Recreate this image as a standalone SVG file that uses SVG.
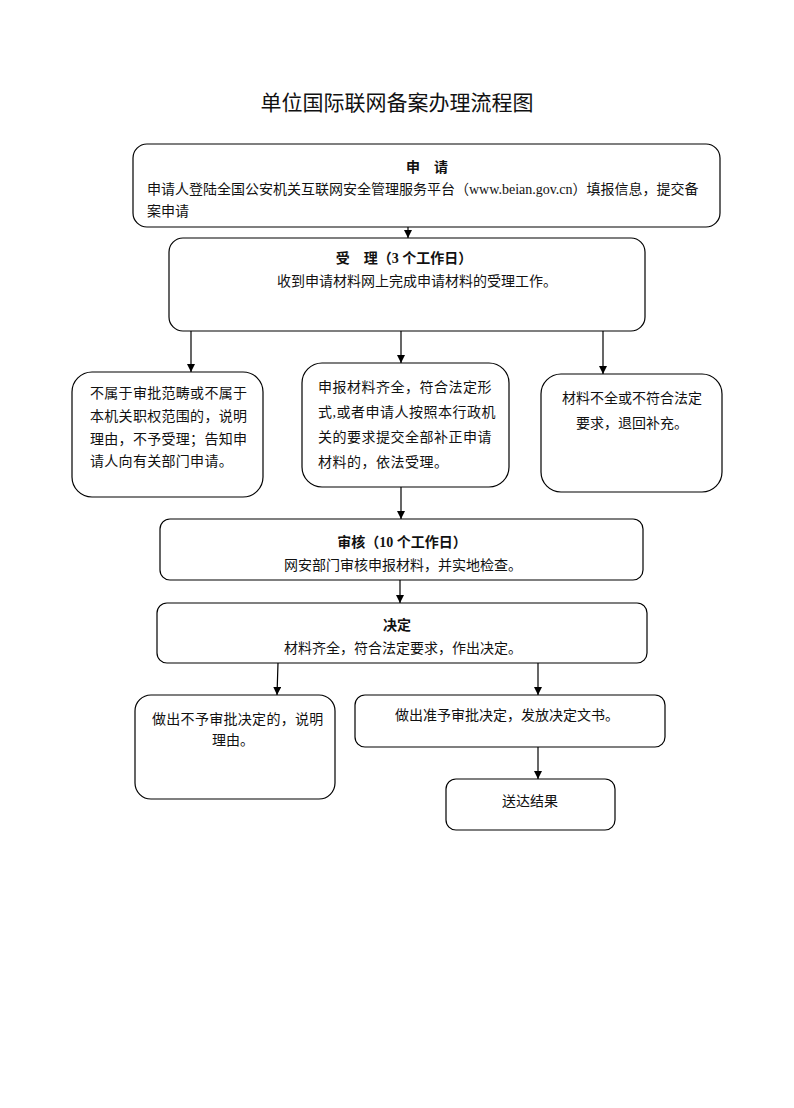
<svg xmlns="http://www.w3.org/2000/svg" width="794" height="1108" viewBox="0 0 794 1108">
<style>
text{font-family:"Liberation Serif","Noto Sans CJK SC",serif;fill:#111;font-size:14px}
.t{font-size:21px}
.b{font-weight:bold}
.m{text-anchor:middle}
.box{fill:#fff;stroke:#000;stroke-width:1.2}
.ln{stroke:#000;stroke-width:1.2;fill:none;marker-end:url(#ah)}
</style>
<defs>
<marker id="ah" viewBox="0 0 10 10" refX="10" refY="5" markerWidth="8" markerHeight="8" markerUnits="userSpaceOnUse" orient="auto">
<path d="M0,0 L10,5 L0,10 z" fill="#000"/>
</marker>
</defs>
<rect width="794" height="1108" fill="#fff"/>
<text class="t m" x="397" y="110">单位国际联网备案办理流程图</text>

<g id="connectors">
<line class="ln" x1="408" y1="227" x2="408" y2="238"/>
<line class="ln" x1="191" y1="321" x2="191" y2="372"/>
<line class="ln" x1="401" y1="321" x2="401" y2="363"/>
<line class="ln" x1="603" y1="321" x2="603" y2="374"/>
<line class="ln" x1="401" y1="487" x2="401" y2="519"/>
<line class="ln" x1="400" y1="580" x2="400" y2="603"/>
<line class="ln" x1="278" y1="663" x2="277" y2="695"/>
<line class="ln" x1="538" y1="663" x2="538" y2="695"/>
<line class="ln" x1="538" y1="747" x2="538" y2="779"/>
</g>

<g id="n1">
<rect class="box" x="133" y="144" width="587" height="83" rx="14"/>
<text class="b m" x="427" y="172">申　请</text>
<text x="147" y="194">申请人登陆全国公安机关互联网安全管理服务平台（www.beian.gov.cn）填报信息，提交备</text>
<text x="147" y="216">案申请</text>
</g>

<g id="n2">
<rect class="box" x="169" y="238" width="476" height="93" rx="14"/>
<text class="b m" x="404" y="263">受　理（3 个工作日）</text>
<text class="m" x="417" y="286">收到申请材料网上完成申请材料的受理工作。</text>
</g>

<g id="n3">
<rect class="box" x="72" y="372" width="191" height="125" rx="20"/>
<text x="90" y="398" letter-spacing="0.3">不属于审批范畴或不属于</text>
<text x="90" y="421" letter-spacing="0.3">本机关职权范围的，说明</text>
<text x="90" y="444" letter-spacing="0.3">理由，不予受理；告知申</text>
<text x="90" y="466" letter-spacing="0.3">请人向有关部门申请。</text>
</g>

<g id="n4">
<rect class="box" x="302" y="363" width="207" height="124" rx="20"/>
<text x="318" y="392" letter-spacing="0.5">申报材料齐全，符合法定形</text>
<text x="318" y="417" letter-spacing="0.5">式,或者申请人按照本行政机</text>
<text x="318" y="442" letter-spacing="0.5">关的要求提交全部补正申请</text>
<text x="318" y="467" letter-spacing="0.5">材料的，依法受理。</text>
</g>

<g id="n5">
<rect class="box" x="541" y="374" width="181" height="118" rx="20"/>
<text class="m" x="632" y="403">材料不全或不符合法定</text>
<text class="m" x="632" y="428">要求，退回补充。</text>
</g>

<g id="n6">
<rect class="box" x="160" y="519" width="483" height="61" rx="10"/>
<text class="b m" x="402" y="547">审核（10 个工作日）</text>
<text class="m" x="403" y="570">网安部门审核申报材料，并实地检查。</text>
</g>

<g id="n7">
<rect class="box" x="157" y="603" width="490" height="60" rx="10"/>
<text class="b m" x="397" y="630">决定</text>
<text class="m" x="403" y="653">材料齐全，符合法定要求，作出决定。</text>
</g>

<g id="n8">
<rect class="box" x="135" y="695" width="200" height="104" rx="16"/>
<text x="152" y="724" letter-spacing="0.3">做出不予审批决定的，说明</text>
<text class="m" x="233" y="745">理由。</text>
</g>

<g id="n9">
<rect class="box" x="355" y="695" width="310" height="52" rx="10"/>
<text class="m" x="507" y="720">做出准予审批决定，发放决定文书。</text>
</g>

<g id="n10">
<rect class="box" x="446" y="779" width="169" height="51" rx="10"/>
<text class="m" x="530" y="806">送达结果</text>
</g>
</svg>
